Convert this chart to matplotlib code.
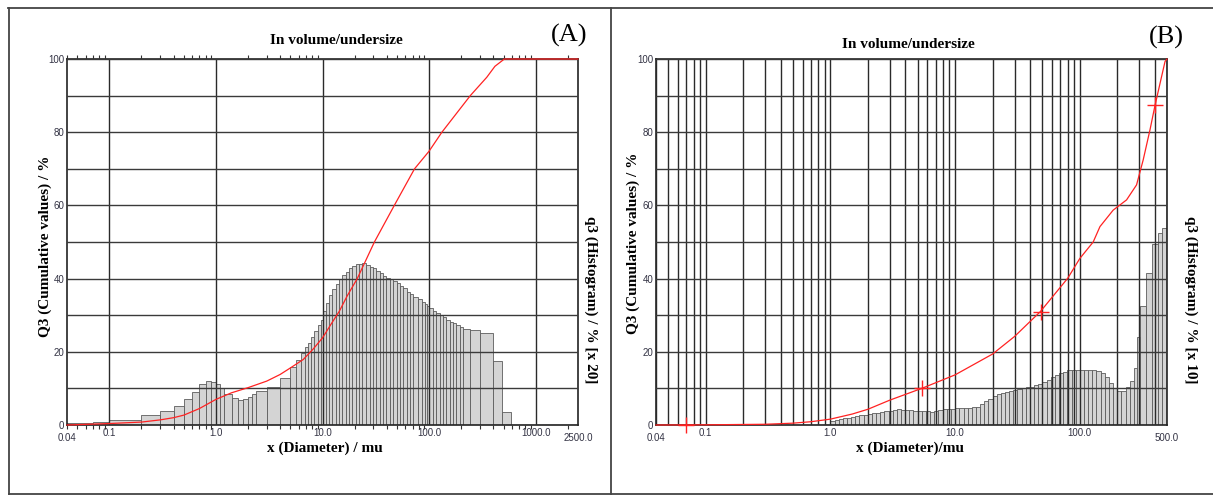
import numpy as np
import matplotlib
matplotlib.use("Agg")
import matplotlib.pyplot as plt
from matplotlib.ticker import LogLocator, NullFormatter, MultipleLocator
from matplotlib.lines import Line2D

# ---- panel A: histogram bins (diameter edges, mu) and q3 heights ----
a_edges = [0.04, 0.07, 0.1, 0.2, 0.3, 0.4, 0.5, 0.6, 0.7, 0.8, 0.9, 1.0,
           1.1, 1.2, 1.4, 1.6, 1.8, 2.0, 2.2, 2.4, 3.0, 4.0, 5.0,
           5.7, 6.3, 6.8, 7.3, 7.8, 8.4, 9.0, 9.6, 10.0,
           10.7, 11.5, 12.4, 13.3, 14.3, 15.4, 16.5, 17.7, 19.1, 20.5, 22.0, 23.6, 25.8,
           27.7, 29.7, 32.0, 34.4, 36.8, 39.6, 42.6, 45.7, 49.8, 53.5, 57.5, 61.8, 66.4,
           71.0, 79.0, 85.0, 91.0, 95.5, 100.0,
           109, 117, 126, 135, 145, 156, 168, 180, 194, 208, 240, 298, 397, 486, 589]
a_heights = [0.5, 0.8, 1.4, 2.6, 3.8, 5.3, 7.0, 9.1, 11.1, 12.0, 11.7,
             11.2, 10.0, 8.6, 7.5, 6.8, 7.2, 7.7, 8.4, 9.3, 10.5, 12.8,
             15.8, 17.8, 19.6, 21.4, 22.5, 24.1, 25.8, 27.4, 28.7,
             31.1, 33.2, 35.5, 37.1, 38.5, 39.8, 41.0, 41.9, 42.8, 43.4, 44.0, 44.0, 44.2,
             43.7, 43.3, 42.8, 42.2, 41.4, 40.8, 40.3, 39.8, 39.4, 38.7, 38.0, 37.3, 36.4,
             35.8, 35.1, 34.3, 33.7, 33.1, 32.6,
             31.9, 31.2, 30.7, 30.1, 29.4, 28.7, 28.2, 27.8, 27.3, 26.7, 26.3, 26.0, 25.2,
             17.6, 3.5]
# cumulative Q3 curve
a_curve_d = [0.04, 0.1, 0.2, 0.3, 0.4, 0.5, 0.7, 1.0, 1.4, 2.0, 3.0, 4.0, 5.0, 6.6, 8.2,
             10, 12, 14.4, 17, 21.2, 30.7, 47.2, 73.1, 100, 132, 244, 348, 415, 509, 2500]
a_curve_q = [0, 0.4, 0.8, 1.4, 2.0, 2.7, 4.5, 7.0, 8.8, 10.2, 12.0, 13.8, 15.6, 17.9, 20.8,
             23.8, 27.5, 31.1, 35.2, 40, 50, 60, 70, 74.8, 80, 90, 95, 98, 100, 100]

# ---- panel B ----
b_edges = [1.00, 1.08, 1.17, 1.26, 1.36, 1.47, 1.58, 1.71, 1.85, 2.00,
           2.15, 2.33, 2.51, 2.71, 2.93, 3.16, 3.41, 3.69, 3.98, 4.30,
           4.64, 5.01, 5.41, 5.84, 6.31, 6.81, 7.36, 7.94, 8.58, 9.26,
           10.0, 10.8, 11.7, 12.6, 13.6, 14.7, 15.8, 17.1, 18.5, 20.0,
           21.5, 23.3, 25.1, 27.1, 29.3, 31.6, 34.1, 36.9, 39.8, 43.0,
           46.4, 50.1, 54.1, 58.4, 63.1, 68.1, 73.6, 79.4, 85.8, 92.6,
           100, 108, 117, 126, 136, 147, 158, 171, 185, 200,
           215, 233, 251, 271, 290, 305, 340, 380, 420, 460, 500]
b_heights = [1.1, 1.3, 1.6, 1.8, 2.0, 2.2, 2.4, 2.6, 2.8, 3.0,
             3.2, 3.4, 3.6, 3.8, 3.9, 4.0, 4.3, 4.1, 4.0, 4.0,
             3.9, 3.9, 3.9, 3.8, 3.6, 3.9, 4.1, 4.3, 4.4, 4.5,
             4.6, 4.6, 4.7, 4.7, 4.8, 4.9, 5.8, 6.5, 7.2, 7.8,
             8.5, 8.8, 9.0, 9.3, 9.5, 9.8, 10.0, 10.3, 10.5, 10.8,
             11.3, 11.8, 12.4, 13.0, 13.6, 14.1, 14.5, 14.9, 15.1, 15.1,
             15.1, 15.1, 15.1, 15.0, 14.7, 14.1, 13.0, 11.6, 10.0, 9.4,
             9.3, 10.5, 12.0, 15.5, 24.0, 32.5, 41.5, 49.5, 52.5, 53.8]
b_curve_d = [0.04, 0.1, 0.3, 0.5, 0.7, 1.0, 1.5, 2.0, 3.0, 5.4, 10, 20, 30, 48.3, 80,
             100, 128, 145, 185, 237, 285, 322, 365, 400, 482, 500]
b_curve_q = [0, 0.05, 0.2, 0.5, 0.9, 1.6, 3.0, 4.3, 6.8, 10.0, 13.7, 19.4, 24.2, 31.0, 40.1,
             45.5, 50.0, 54.2, 58.7, 61.5, 65.6, 72.4, 80.6, 87.2, 99.3, 100]
b_mark_d = [0.069, 5.4, 48.5, 400]
b_mark_q = [0, 10.0, 31.0, 87.5]

W, H = 1213, 496
SERIF = ["Liberation Serif", "DejaVu Serif"]
SANS = ["Liberation Sans", "DejaVu Sans"]
TICKC = "#333344"


def px(x, y):
    return x / W, 1 - y / H


def draw_panel(ax, edges, heights, cd, cq, xmin, xmax, major, major_lab, end_lab, full_grid):
    edges = np.array(edges, dtype=float)
    ax.bar(edges[:-1], heights, width=np.diff(edges), align="edge",
           color="#d4d4d4", edgecolor="#5c5c5c", linewidth=0.6, zorder=1)
    ax.plot(cd, cq, color="#ff2222", lw=0.9, zorder=5, clip_on=False)
    ax.set_xscale("log")
    ax.set_xlim(xmin, xmax)
    ax.set_ylim(0, 100)
    ax.set_xticks(major)
    ax.set_xticklabels(major_lab)
    ax.xaxis.set_minor_locator(LogLocator(base=10, subs=np.arange(2, 10), numticks=60))
    ax.xaxis.set_minor_formatter(NullFormatter())
    ax.set_yticks([0, 20, 40, 60, 80, 100])
    ax.yaxis.set_minor_locator(MultipleLocator(10))
    ax.set_axisbelow(False)
    ax.grid(axis="y", which="both", color="#3a3a3a", lw=1.0)
    ax.grid(axis="x", which="both" if full_grid else "major", color="#2a2a2a", lw=1.0)
    ax.tick_params(axis="both", which="major", length=0, pad=2, labelsize=7, labelcolor=TICKC)
    ax.tick_params(axis="y", which="minor", length=0)
    for lab in ax.get_xticklabels() + ax.get_yticklabels():
        lab.set_fontfamily(SANS)
    for s in ax.spines.values():
        s.set_color("#222222")
        s.set_linewidth(1.2)
    tr = ax.get_xaxis_transform()
    ax.text(xmin, -0.022, end_lab[0], transform=tr, ha="center", va="top",
            fontsize=7, color=TICKC, family=SANS)
    ax.text(xmax, -0.022, end_lab[1], transform=tr, ha="center", va="top",
            fontsize=7, color=TICKC, family=SANS)


fig = plt.figure(figsize=(W / 100, H / 100), dpi=100)
fig.patch.set_facecolor("white")

axA = fig.add_axes([67 / W, 1 - 425 / H, (578 - 67) / W, (425 - 59) / H])
draw_panel(axA, a_edges, a_heights, a_curve_d, a_curve_q, 0.04, 2500,
           [0.1, 1, 10, 100, 1000], ["0.1", "1.0", "10.0", "100.0", "1000.0"],
           ("0.04", "2500.0"), False)
axA.tick_params(axis="x", which="minor", length=3, direction="out", top=True,
                bottom=True, color="#333333", width=0.8)

axB = fig.add_axes([656 / W, 1 - 425 / H, (1167 - 656) / W, (425 - 59) / H])
draw_panel(axB, b_edges, b_heights, b_curve_d, b_curve_q, 0.04, 500,
           [0.1, 1, 10, 100], ["0.1", "1.0", "10.0", "100.0"],
           ("0.04", "500.0"), True)
axB.tick_params(axis="x", which="minor", length=0)
axB.plot(b_mark_d, b_mark_q, "+", color="#ff2222", ms=12, mew=1.0, zorder=6, clip_on=False)

# titles and axis labels
for cx, cy in [(336, 40), (908, 44)]:
    fig.text(*px(cx, cy), "In volume/undersize", ha="center", va="center",
             fontsize=11, fontweight="bold", family=SERIF)
fig.text(*px(569, 35), "(A)", ha="center", va="center", fontsize=19, family=SERIF)
fig.text(*px(1166, 37), "(B)", ha="center", va="center", fontsize=19, family=SERIF)

fig.text(*px(45, 246), "Q3 (Cumulative values) / %", rotation=90, ha="center", va="center",
         fontsize=11, fontweight="bold", family=SERIF)
fig.text(*px(633, 243), "Q3 (Cumulative values) / %", rotation=90, ha="center", va="center",
         fontsize=11, fontweight="bold", family=SERIF)
fig.text(*px(591, 300), "q3 (Histogram) / % [x 20]", rotation=270, ha="center", va="center",
         fontsize=11, fontweight="bold", family=SERIF)
fig.text(*px(1191, 300), "q3 (Histogram) / % [x 10]", rotation=270, ha="center", va="center",
         fontsize=11, fontweight="bold", family=SERIF)

fig.text(*px(325, 448), "x (Diameter) / mu", ha="center", va="center",
         fontsize=11, fontweight="bold", family=SERIF)
fig.text(*px(910, 448), "x (Diameter)/mu", ha="center", va="center",
         fontsize=11, fontweight="bold", family=SERIF)

# outer frame of the two panels
frame = [((8, 1213), (8, 8)), ((9, 9), (8, 494)), ((9, 1213), (494, 494)), ((611, 611), (8, 494))]
for xs, ys in frame:
    fig.add_artist(Line2D([x / W for x in xs], [1 - y / H for y in ys],
                          color="#444444", lw=1.3))

fig.savefig("out.png", dpi=100)
